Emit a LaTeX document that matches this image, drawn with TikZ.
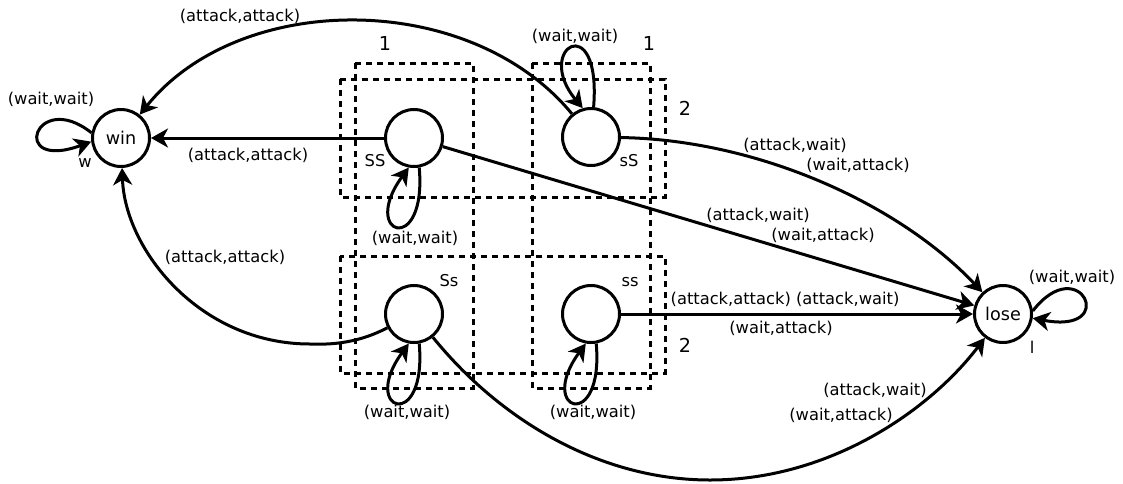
\documentclass[tikz,border=0pt]{standalone}
\usepackage{fontspec}
\setmainfont{DejaVu Sans}
\usetikzlibrary{arrows.meta}
\begin{document}
\begin{tikzpicture}[x=0.5pt,y=-0.5pt,
  state/.style={circle,draw,line width=1.5pt,minimum size=28.5pt,inner sep=0pt,
    fill=white,font=\fontsize{8.8}{10}\selectfont},
  edge/.style={line width=1.5pt,-{Stealth[length=8.5pt,width=9.5pt,inset=2.5pt]}},
  grp/.style={line width=1.5pt,dash pattern=on 3pt off 2.5pt},
  lbl/.style={font=\fontsize{8.15}{10}\selectfont,inner sep=0pt},
  num/.style={font=\fontsize{9.6}{11}\selectfont,inner sep=0pt},
]
\useasboundingbox (0,0) rectangle (1123,483);

% groups of states (columns and rows)
\draw[grp] (355,63) rectangle (473,388);
\draw[grp] (532,63) rectangle (650,388);
\draw[grp] (340,79) rectangle (665,197);
\draw[grp] (340,256) rectangle (665,373);
\node[num] (c1) at (385,43) {1};
\node[num] (c2) at (649,43) {1};
\node[num] (r1) at (685,108) {2};
\node[num] (r2) at (685,345) {2};

% states
\node[state] (nwin)  at (121,138) {win};
\node[state] (nSS)   at (414,138) {};
\node[state] (nsS)   at (591,137) {};
\node[state] (nSs)   at (414,314) {};
\node[state] (nss)   at (591,314) {};
\node[state] (nlose) at (1003,314) {lose};

\node[lbl] (lw)  at (85,163)  {w};
\node[lbl] (lSS) at (375,161) {SS};
\node[lbl] (lsS) at (629,161) {sS};
\node[lbl] (lSs) at (449,281) {Ss};
\node[lbl] (lss) at (630,282) {ss};
\node[lbl] (ll)  at (1032,347) {l};

\coordinate (lowL) at (310,344);
\coordinate (lowR) at (710,480);

% transitions
\draw[edge] (nsS) .. controls (470,-10) and (240,-10) .. (nwin);
\draw[edge] (nSS) -- (nwin);
\draw[edge] (nSs) .. controls (360,342) and (335,345) .. (lowL)
            .. controls (200,344) and (125,250) .. (nwin);
\draw[edge] (nSS) -- (nlose);
\draw[edge] (nsS) .. controls (760,140) and (900,205) .. (nlose);
\draw[edge] (nss) -- (nlose);
\draw[edge] (nSs) .. controls (500,420) and (600,480) .. (lowR)
            .. controls (830,480) and (930,410) .. (nlose);

% self loops
\draw[edge] (nwin.170) .. controls (35,88) and (8,172) .. (nwin.187);
\draw[edge] (nSS.-80) .. controls +(8,90) and +(-50,68) .. (nSS.-100);
\draw[edge] (nsS.85) .. controls +(8,-100) and +(-50,-60) .. (nsS.106);
\draw[edge] (nSs.-80) .. controls +(8,90) and +(-50,68) .. (nSs.-100);
\draw[edge] (nss.-80) .. controls +(8,90) and +(-50,68) .. (nss.-100);
\draw[edge] (nlose.6) .. controls (1080,250) and (1120,335) .. (nlose.-8);

% transition labels
\node[lbl] (t1)  at (240,16)  {(attack,attack)};
\node[lbl] (t2)  at (248,155) {(attack,attack)};
\node[lbl] (t3)  at (225,257) {(attack,attack)};
\node[lbl] (t4)  at (51,99)   {(wait,wait)};
\node[lbl] (t5)  at (415,238) {(wait,wait)};
\node[lbl] (t6)  at (575,36)  {(wait,wait)};
\node[lbl] (t7)  at (407,412) {(wait,wait)};
\node[lbl] (t8)  at (593,412) {(wait,wait)};
\node[lbl] (t9)  at (1072,277) {(wait,wait)};
\node[lbl] (t10) at (795,145) {(attack,wait)};
\node[lbl] (t11) at (858,165) {(wait,attack)};
\node[lbl] (t12) at (758,215) {(attack,wait)};
\node[lbl] (t13) at (823,235) {(wait,attack)};
\node[lbl] (t14) at (785,299) {(attack,attack) (attack,wait)};
\node[lbl] (t15) at (781,328) {(wait,attack)};
\node[lbl] (t16) at (875,390) {(attack,wait)};
\node[lbl] (t17) at (841,415) {(wait,attack)};
\end{tikzpicture}
\end{document}
